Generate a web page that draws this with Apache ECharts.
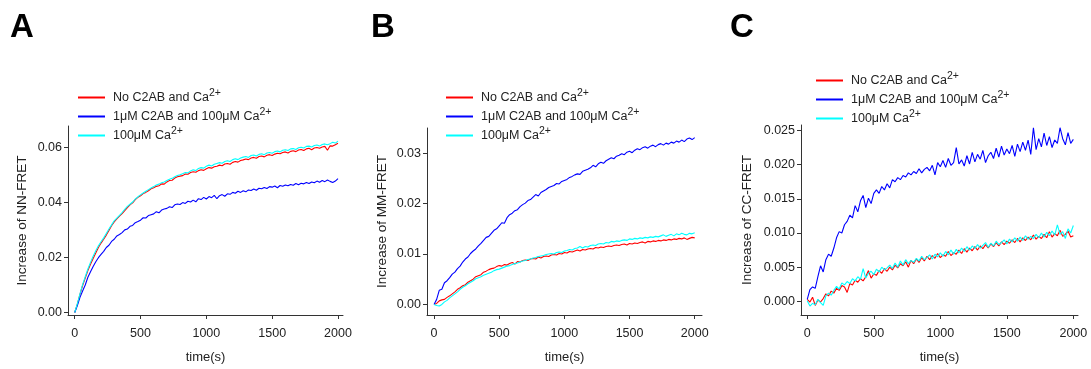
<!DOCTYPE html>
<html>
<head>
<meta charset="utf-8">
<script src="https://cdn.jsdelivr.net/npm/echarts@6/dist/echarts.min.js"></script>
<style>
html, body { margin: 0; padding: 0; background: #fff; }
#chart { width: 1091px; height: 369px; }
</style>
</head>
<body>
<div id="chart"></div>
<script>
// time points (s)
const time = [0,20,40,60,80,100,120,140,160,180,200,220,240,260,280,300,320,340,360,380,
    400,420,440,460,480,500,520,540,560,580,600,620,640,660,680,700,720,740,760,780,
    800,820,840,860,880,900,920,940,960,980,1000,1020,1040,1060,1080,1100,1120,1140,1160,1180,
    1200,1220,1240,1260,1280,1300,1320,1340,1360,1380,1400,1420,1440,1460,1480,1500,1520,1540,1560,1580,
    1600,1620,1640,1660,1680,1700,1720,1740,1760,1780,1800,1820,1840,1860,1880,1900,1920,1940,1960,1980,2000];

const seriesNames = ['No C2AB and Ca2+', '1μM C2AB and 100μM Ca2+', '100μM Ca2+'];
const seriesColors = ['#ff0000', '#0000ff', '#00ffff'];

// A: NN-FRET
const nnNone = [0.0000,0.0030,0.0066,0.0098,0.0125,0.0152,0.0175,0.0196,0.0216,0.0236,
    0.0252,0.0266,0.0281,0.0298,0.0315,0.0329,0.0340,0.0350,0.0359,0.0370,
    0.0381,0.0391,0.0398,0.0410,0.0418,0.0424,0.0432,0.0436,0.0442,0.0449,
    0.0453,0.0458,0.0460,0.0467,0.0466,0.0474,0.0479,0.0480,0.0488,0.0493,
    0.0495,0.0497,0.0503,0.0502,0.0508,0.0511,0.0509,0.0515,0.0518,0.0516,
    0.0522,0.0526,0.0524,0.0529,0.0531,0.0535,0.0533,0.0539,0.0541,0.0538,
    0.0545,0.0548,0.0546,0.0552,0.0554,0.0557,0.0555,0.0561,0.0563,0.0560,
    0.0566,0.0568,0.0565,0.0571,0.0573,0.0570,0.0575,0.0578,0.0576,0.0581,
    0.0583,0.0579,0.0585,0.0587,0.0584,0.0590,0.0592,0.0588,0.0594,0.0596,
    0.0591,0.0597,0.0599,0.0596,0.0601,0.0603,0.0589,0.0605,0.0604,0.0609,0.0614];
const nnC2AB = [0.0000,0.0025,0.0055,0.0078,0.0100,0.0128,0.0148,0.0167,0.0184,0.0199,
    0.0211,0.0222,0.0236,0.0244,0.0258,0.0266,0.0278,0.0283,0.0290,0.0300,
    0.0303,0.0313,0.0316,0.0326,0.0330,0.0335,0.0344,0.0343,0.0352,0.0355,
    0.0358,0.0366,0.0362,0.0372,0.0376,0.0378,0.0384,0.0381,0.0391,0.0394,
    0.0392,0.0399,0.0396,0.0404,0.0401,0.0408,0.0402,0.0413,0.0410,0.0418,
    0.0412,0.0421,0.0417,0.0425,0.0413,0.0424,0.0428,0.0422,0.0431,0.0429,
    0.0436,0.0433,0.0440,0.0436,0.0442,0.0438,0.0445,0.0443,0.0448,0.0444,
    0.0451,0.0449,0.0454,0.0450,0.0457,0.0455,0.0459,0.0453,0.0461,0.0458,
    0.0463,0.0460,0.0465,0.0462,0.0468,0.0464,0.0469,0.0467,0.0472,0.0468,
    0.0474,0.0471,0.0477,0.0473,0.0479,0.0475,0.0481,0.0476,0.0472,0.0477,0.0486];
const nnCa = [0.0000,0.0032,0.0068,0.0101,0.0130,0.0158,0.0182,0.0204,0.0224,0.0242,
    0.0257,0.0271,0.0287,0.0303,0.0318,0.0333,0.0343,0.0353,0.0363,0.0374,
    0.0385,0.0393,0.0401,0.0412,0.0420,0.0427,0.0434,0.0440,0.0446,0.0452,
    0.0457,0.0463,0.0466,0.0471,0.0474,0.0479,0.0484,0.0487,0.0493,0.0497,
    0.0500,0.0504,0.0508,0.0507,0.0514,0.0518,0.0515,0.0523,0.0526,0.0524,
    0.0531,0.0535,0.0532,0.0538,0.0541,0.0544,0.0542,0.0548,0.0551,0.0548,
    0.0555,0.0558,0.0555,0.0561,0.0564,0.0566,0.0563,0.0570,0.0572,0.0568,
    0.0574,0.0576,0.0573,0.0579,0.0581,0.0578,0.0584,0.0586,0.0583,0.0589,
    0.0591,0.0588,0.0594,0.0595,0.0592,0.0598,0.0600,0.0597,0.0603,0.0604,
    0.0601,0.0606,0.0608,0.0604,0.0610,0.0612,0.0609,0.0613,0.0618,0.0615,0.0622];

// B: MM-FRET
const mmNone = [0.0000,0.0002,0.0007,0.0009,0.0010,0.0014,0.0017,0.0021,0.0025,0.0030,
    0.0033,0.0037,0.0039,0.0044,0.0047,0.0050,0.0055,0.0057,0.0059,0.0064,
    0.0066,0.0069,0.0071,0.0072,0.0075,0.0077,0.0076,0.0079,0.0078,0.0081,
    0.0083,0.0080,0.0085,0.0084,0.0087,0.0088,0.0087,0.0090,0.0091,0.0090,
    0.0094,0.0092,0.0095,0.0096,0.0095,0.0098,0.0099,0.0098,0.0101,0.0100,
    0.0103,0.0102,0.0105,0.0104,0.0106,0.0108,0.0106,0.0109,0.0108,0.0110,
    0.0111,0.0110,0.0113,0.0112,0.0114,0.0113,0.0115,0.0116,0.0115,0.0117,
    0.0118,0.0117,0.0119,0.0120,0.0118,0.0121,0.0120,0.0122,0.0121,0.0123,
    0.0124,0.0122,0.0125,0.0124,0.0126,0.0125,0.0127,0.0126,0.0128,0.0127,
    0.0129,0.0128,0.0130,0.0129,0.0131,0.0130,0.0132,0.0129,0.0131,0.0133,0.0132];
const mmC2AB = [0.0000,0.0010,0.0028,0.0030,0.0043,0.0047,0.0053,0.0060,0.0064,0.0071,
    0.0076,0.0084,0.0090,0.0094,0.0101,0.0106,0.0110,0.0116,0.0121,0.0127,
    0.0133,0.0135,0.0141,0.0147,0.0150,0.0156,0.0162,0.0161,0.0172,0.0178,
    0.0181,0.0186,0.0188,0.0194,0.0198,0.0201,0.0206,0.0208,0.0213,0.0218,
    0.0215,0.0222,0.0225,0.0228,0.0232,0.0234,0.0236,0.0240,0.0239,0.0244,
    0.0246,0.0248,0.0252,0.0254,0.0257,0.0259,0.0258,0.0264,0.0266,0.0268,
    0.0271,0.0276,0.0273,0.0279,0.0282,0.0280,0.0285,0.0288,0.0291,0.0289,
    0.0294,0.0296,0.0299,0.0297,0.0302,0.0304,0.0301,0.0306,0.0309,0.0307,
    0.0311,0.0313,0.0310,0.0314,0.0316,0.0313,0.0317,0.0319,0.0316,0.0320,
    0.0318,0.0322,0.0320,0.0324,0.0322,0.0326,0.0323,0.0328,0.0330,0.0327,0.0331];
const mmCa = [0.0000,-0.0002,-0.0003,0.0000,0.0005,0.0008,0.0013,0.0017,0.0021,0.0025,
    0.0030,0.0034,0.0037,0.0041,0.0044,0.0047,0.0051,0.0053,0.0055,0.0058,
    0.0060,0.0062,0.0064,0.0067,0.0069,0.0070,0.0072,0.0074,0.0076,0.0077,
    0.0079,0.0081,0.0082,0.0084,0.0086,0.0087,0.0089,0.0090,0.0092,0.0093,
    0.0095,0.0096,0.0097,0.0099,0.0100,0.0101,0.0100,0.0103,0.0104,0.0103,
    0.0106,0.0107,0.0109,0.0108,0.0111,0.0112,0.0115,0.0112,0.0115,0.0114,
    0.0117,0.0118,0.0117,0.0120,0.0121,0.0120,0.0123,0.0122,0.0125,0.0124,
    0.0126,0.0125,0.0127,0.0128,0.0127,0.0130,0.0129,0.0131,0.0130,0.0132,
    0.0131,0.0133,0.0132,0.0134,0.0133,0.0135,0.0134,0.0136,0.0138,0.0135,
    0.0137,0.0139,0.0136,0.0140,0.0138,0.0141,0.0139,0.0138,0.0141,0.0140,0.0142];

// C: CC-FRET
const ccNone = [0.0003,-0.0001,0.0006,-0.0006,0.0002,-0.0001,0.0004,0.0011,0.0008,0.0015,
    0.0012,0.0019,0.0016,0.0023,0.0021,0.0013,0.0026,0.0024,0.0031,0.0028,
    0.0033,0.0030,0.0036,0.0045,0.0034,0.0040,0.0038,0.0045,0.0041,0.0048,
    0.0044,0.0050,0.0046,0.0053,0.0049,0.0055,0.0052,0.0058,0.0050,0.0060,
    0.0055,0.0062,0.0057,0.0064,0.0059,0.0066,0.0061,0.0067,0.0063,0.0070,
    0.0064,0.0068,0.0066,0.0073,0.0067,0.0071,0.0069,0.0075,0.0070,0.0077,
    0.0072,0.0078,0.0074,0.0080,0.0075,0.0081,0.0077,0.0083,0.0078,0.0084,
    0.0080,0.0086,0.0081,0.0087,0.0083,0.0088,0.0085,0.0090,0.0086,0.0092,
    0.0087,0.0093,0.0089,0.0094,0.0090,0.0097,0.0091,0.0095,0.0092,0.0098,
    0.0093,0.0102,0.0094,0.0099,0.0096,0.0104,0.0095,0.0098,0.0103,0.0094,0.0096];
const ccC2AB = [0.0003,0.0017,0.0021,0.0019,0.0036,0.0052,0.0043,0.0061,0.0069,0.0066,
    0.0078,0.0093,0.0102,0.0100,0.0112,0.0117,0.0126,0.0122,0.0140,0.0131,
    0.0147,0.0155,0.0137,0.0151,0.0143,0.0158,0.0163,0.0158,0.0168,0.0163,
    0.0172,0.0166,0.0178,0.0175,0.0181,0.0178,0.0184,0.0182,0.0188,0.0185,
    0.0190,0.0187,0.0194,0.0188,0.0193,0.0196,0.0191,0.0199,0.0185,0.0203,
    0.0197,0.0206,0.0196,0.0209,0.0199,0.0203,0.0225,0.0201,0.0207,0.0198,
    0.0213,0.0201,0.0218,0.0204,0.0215,0.0208,0.0221,0.0203,0.0213,0.0218,
    0.0209,0.0224,0.0211,0.0227,0.0214,0.0223,0.0216,0.0228,0.0212,0.0230,
    0.0219,0.0233,0.0221,0.0236,0.0215,0.0254,0.0222,0.0238,0.0226,0.0246,
    0.0228,0.0241,0.0225,0.0236,0.0231,0.0254,0.0238,0.0229,0.0247,0.0231,0.0237];
const ccCa = [0.0001,-0.0007,-0.0003,-0.0005,0.0003,-0.0002,-0.0006,0.0008,0.0012,0.0009,
    0.0016,0.0022,0.0018,0.0027,0.0024,0.0029,0.0026,0.0033,0.0030,0.0036,
    0.0032,0.0048,0.0034,0.0041,0.0044,0.0039,0.0047,0.0043,0.0050,0.0046,
    0.0049,0.0053,0.0048,0.0056,0.0050,0.0059,0.0053,0.0061,0.0055,0.0060,
    0.0057,0.0063,0.0059,0.0066,0.0061,0.0064,0.0068,0.0062,0.0069,0.0065,
    0.0071,0.0066,0.0073,0.0068,0.0075,0.0069,0.0076,0.0071,0.0078,0.0073,
    0.0080,0.0075,0.0081,0.0077,0.0083,0.0078,0.0082,0.0086,0.0079,0.0085,
    0.0081,0.0088,0.0083,0.0086,0.0090,0.0084,0.0091,0.0087,0.0093,0.0088,
    0.0094,0.0089,0.0096,0.0091,0.0095,0.0092,0.0098,0.0093,0.0100,0.0094,
    0.0101,0.0096,0.0103,0.0097,0.0112,0.0098,0.0102,0.0092,0.0106,0.0100,0.0111];

const xTicks = [0, 500, 1000, 1500, 2000];

const panels = [
    { letter: 'A', yName: 'Increase of NN-FRET', data: [nnNone, nnC2AB, nnCa],
      yTicks: [0, 0.02, 0.04, 0.06], digits: 2,
      grid: { left: 68, top: 126, width: 275, height: 193 },
      xRange: [-51, 2038], yRange: [-0.0009, 0.0677], yGap: 39,
      letterPos: [10, 11], legendPos: [78, 88] },
    { letter: 'B', yName: 'Increase of MM-FRET', data: [mmNone, mmC2AB, mmCa],
      yTicks: [0, 0.01, 0.02, 0.03], digits: 2,
      grid: { left: 427, top: 128, width: 275, height: 192 },
      xRange: [-54, 2056], yRange: [-0.0021, 0.0350], yGap: 38,
      letterPos: [371, 11], legendPos: [446, 88] },
    { letter: 'C', yName: 'Increase of CC-FRET', data: [ccNone, ccC2AB, ccCa],
      yTicks: [0, 0.005, 0.01, 0.015, 0.02, 0.025], digits: 3,
      grid: { left: 801, top: 125, width: 277, height: 195 },
      xRange: [-47, 2035], yRange: [-0.0020, 0.0258], yGap: 47,
      letterPos: [730, 11], legendPos: [816, 71] }
];

function pairs(values) {
    return values.map(function (v, i) { return [time[i], v]; });
}

function legendLabel(name) {
    return '{b|' + name.slice(0, -2) + '}{s|2+}';
}

const axisColor = '#333';
const textColor = '#222';
const font = 'Arial, "Liberation Sans", sans-serif';

let option = {
    backgroundColor: '#fff',
    animation: false,
    title: [],
    legend: [],
    grid: [],
    xAxis: [],
    yAxis: [],
    series: []
};

panels.forEach(function (p, k) {
    option.title.push({
        text: p.letter,
        left: p.letterPos[0],
        top: p.letterPos[1],
        padding: 0,
        textStyle: { fontSize: 33, fontWeight: 'bold', color: '#000', fontFamily: font }
    });
    option.legend.push({
        data: seriesNames,
        orient: 'vertical',
        left: p.legendPos[0],
        top: p.legendPos[1],
        padding: 0,
        itemGap: 0,
        itemWidth: 27,
        itemHeight: 2,
        icon: 'rect',
        selectedMode: false,
        formatter: legendLabel,
        textStyle: {
            color: textColor,
            fontFamily: font,
            padding: [0, 0, 0, 3],
            rich: {
                b: { fontSize: 12.5, lineHeight: 17, color: textColor, fontFamily: font },
                s: { fontSize: 10.5, lineHeight: 9, padding: [0, 0, 8, 0], color: textColor, fontFamily: font }
            }
        }
    });
    option.grid.push(Object.assign({ containLabel: false }, p.grid));
    option.xAxis.push({
        type: 'value',
        gridIndex: k,
        min: p.xRange[0],
        max: p.xRange[1],
        name: 'time(s)',
        nameLocation: 'middle',
        nameGap: 36,
        nameTextStyle: { fontSize: 13, color: textColor, fontFamily: font },
        axisLine: { onZero: false, lineStyle: { color: axisColor, width: 1 } },
        axisTick: { show: true, length: 4, inside: false, customValues: xTicks, lineStyle: { color: axisColor } },
        axisLabel: {
            customValues: xTicks, margin: 12, fontSize: 12.5, color: textColor, fontFamily: font,
            formatter: function (v) { return String(v); }
        },
        splitLine: { show: false }
    });
    option.yAxis.push({
        type: 'value',
        gridIndex: k,
        min: p.yRange[0],
        max: p.yRange[1],
        name: p.yName,
        nameLocation: 'middle',
        nameGap: p.yGap,
        nameTextStyle: { fontSize: 13.5, color: textColor, fontFamily: font },
        axisLine: { show: true, onZero: false, lineStyle: { color: axisColor, width: 1 } },
        axisTick: { show: true, length: 4, inside: false, customValues: p.yTicks, lineStyle: { color: axisColor } },
        axisLabel: {
            customValues: p.yTicks, margin: 6, fontSize: 12.5, color: textColor, fontFamily: font,
            formatter: function (v) { return v.toFixed(p.digits); }
        },
        splitLine: { show: false }
    });
    p.data.forEach(function (vals, j) {
        option.series.push({
            name: seriesNames[j],
            type: 'line',
            xAxisIndex: k,
            yAxisIndex: k,
            data: pairs(vals),
            symbol: 'none',
            showSymbol: false,
            color: seriesColors[j],
            lineStyle: { width: 1.1, color: seriesColors[j] }
        });
    });
});

let chart = echarts.init(document.getElementById('chart'), null, { renderer: 'canvas' });
chart.setOption(option);
</script>
</body>
</html>
